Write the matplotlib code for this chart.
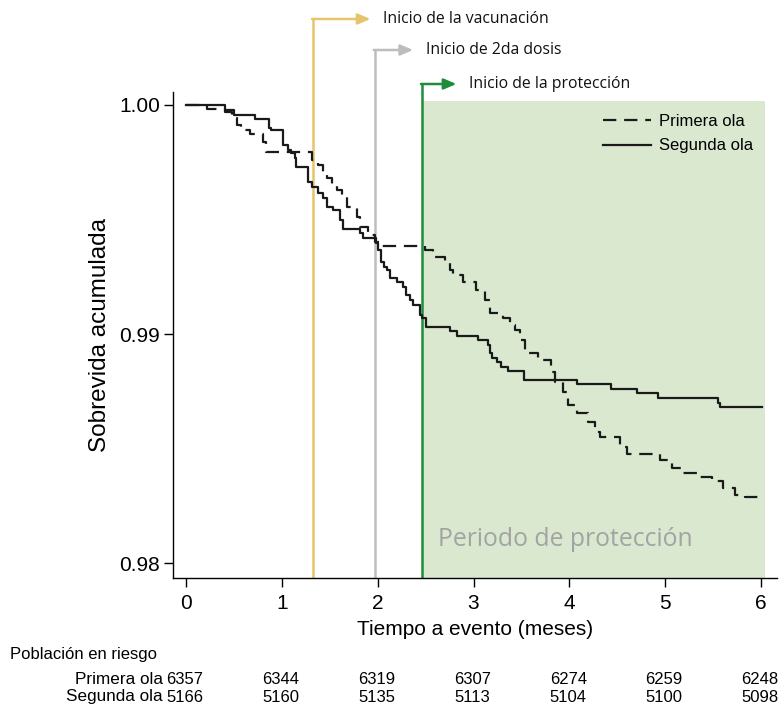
import matplotlib
matplotlib.use("Agg")
import matplotlib.pyplot as plt
import matplotlib.transforms as mtransforms

SANS = "Liberation Sans"
ANN = "Open Sans"

# ---------------- data ----------------
t_primera = [0.0, 0.219, 0.407, 0.480, 0.532, 0.574, 0.668, 0.803, 0.835, 1.315, 1.377, 1.430,
             1.471, 1.524, 1.576, 1.628, 1.680, 1.784, 1.816, 1.899, 1.972, 2.024, 2.494, 2.577,
             2.703, 2.755, 2.786, 2.891, 3.026, 3.120, 3.172, 3.308, 3.381, 3.433, 3.485, 3.538,
             3.673, 3.809, 3.851, 3.934, 3.986, 4.080, 4.195, 4.268, 4.320, 4.529, 4.602, 4.946,
             5.071, 5.186, 5.343, 5.489, 5.604, 5.729, 5.833, 6.011]
s_primera = [1.0, 0.99983, 0.99969, 0.99943, 0.99913, 0.99891, 0.99873, 0.99839, 0.99795, 0.99760,
             0.99738, 0.99703, 0.99681, 0.99651, 0.99629, 0.99598, 0.99555, 0.99511, 0.99468,
             0.99433, 0.99402, 0.99385, 0.99367, 0.99337, 0.99315, 0.99280, 0.99258, 0.99228,
             0.99193, 0.99149, 0.99092, 0.99071, 0.99040, 0.99018, 0.98975, 0.98918, 0.98887,
             0.98835, 0.98791, 0.98748, 0.98691, 0.98656, 0.98617, 0.98573, 0.98551, 0.98508,
             0.98477, 0.98451, 0.98416, 0.98394, 0.98377, 0.98360, 0.98329, 0.98298, 0.98290,
             0.98290]

t_segunda = [0.0, 0.407, 0.501, 0.720, 0.866, 0.887, 1.012, 1.064, 1.096, 1.137, 1.148, 1.273,
             1.315, 1.377, 1.430, 1.471, 1.534, 1.607, 1.638, 1.816, 1.847, 1.983, 2.005, 2.035,
             2.066, 2.097, 2.129, 2.202, 2.264, 2.296, 2.337, 2.369, 2.442, 2.463, 2.504, 2.755,
             2.828, 3.047, 3.151, 3.172, 3.193, 3.245, 3.287, 3.360, 3.527, 4.080, 4.435, 4.706,
             4.925, 5.551, 5.572, 6.011]
s_segunda = [1.0, 0.99978, 0.99956, 0.99939, 0.99900, 0.99891, 0.99825, 0.99804, 0.99791, 0.99769,
             0.99729, 0.99664, 0.99642, 0.99616, 0.99594, 0.99555, 0.99542, 0.99498, 0.99459,
             0.99442, 0.99420, 0.99398, 0.99367, 0.99315, 0.99293, 0.99280, 0.99245, 0.99228,
             0.99206, 0.99171, 0.99149, 0.99127, 0.99084, 0.99071, 0.99031, 0.99014, 0.98992,
             0.98975, 0.98953, 0.98918, 0.98896, 0.98878, 0.98857, 0.98839, 0.98800, 0.98783,
             0.98761, 0.98743, 0.98722, 0.98700, 0.98682, 0.98682]

eventos = ["Inicio de la vacunación", "Inicio de 2da dosis", "Inicio de la protección"]
t_eventos = [1.325, 1.97, 2.462]
col_eventos = ["#E6C46A", "#BDBDBD", "#1E8C3A"]
fin_proteccion = 6.04

x_ticks = [0, 1, 2, 3, 4, 5, 6]
y_ticks = [0.98, 0.99, 1.00]
y_ticklabels = ["0.98", "0.99", "1.00"]
riesgo_primera = [6357, 6344, 6319, 6307, 6274, 6259, 6248]
riesgo_segunda = [5166, 5160, 5135, 5113, 5104, 5100, 5098]

# ---------------- figure ----------------
W, H = 779, 706
fig = plt.figure(figsize=(W / 100, H / 100), dpi=100)
L, R, T, B = 173, 777, 92, 578
ax = fig.add_axes([L / W, (H - B) / H, (R - L) / W, (B - T) / H])
ax.set_xlim(-0.1357, 6.167)
ax.set_ylim(0.979359, 1.000567)

for s in ["top", "right"]:
    ax.spines[s].set_visible(False)
for s in ["left", "bottom"]:
    ax.spines[s].set_linewidth(1.0)

# protection shading
ax.axvspan(t_eventos[2], fin_proteccion, ymin=0, ymax=(B - 101) / (B - T),
           color="#D9E8CF", lw=0, zorder=0)
ax.text(3.955, 0.98102, "Periodo de protección", ha="center", va="center",
        fontsize=17.8, color="#A3A3A3", family=ANN, zorder=1)

# event lines + arrows
trans = mtransforms.blended_transform_factory(ax.transData, ax.transAxes)
arrow_y = [(B - 19) / (B - T), (B - 50) / (B - T), (B - 84) / (B - T)]
arrow_len = [0.60, 0.40, 0.36]
for name, te, c, ay, al in zip(eventos, t_eventos, col_eventos, arrow_y, arrow_len):
    ax.plot([te, te], [0, ay], color=c, lw=1.8, transform=trans, clip_on=False, zorder=2,
            solid_capstyle="butt")
    ax.annotate("", xy=(te + al, ay), xytext=(te - 0.01, ay), xycoords=trans, textcoords=trans,
                arrowprops=dict(arrowstyle="-|>,head_length=0.75,head_width=0.32", color=c, lw=1.8,
                                shrinkA=0, shrinkB=0), annotation_clip=False, zorder=2)
    ax.text(te + al + 0.13, ay, name, transform=trans, ha="left", va="center",
            fontsize=11.3, family=ANN, color="#111111", clip_on=False)

# curves
ax.step(t_primera, s_primera, where="post", color="#1a1a1a", lw=1.6,
        dashes=(6, 3.5), label="Primera ola", zorder=3)
ax.step(t_segunda, s_segunda, where="post", color="#1a1a1a", lw=1.6,
        label="Segunda ola", zorder=3)

ax.set_xticks(x_ticks)
ax.set_xticklabels([str(v) for v in x_ticks], family=SANS, fontsize=15)
ax.set_yticks(y_ticks)
ax.set_yticklabels(y_ticklabels, family=SANS, fontsize=15)
ax.tick_params(axis="both", direction="out", length=6.5, width=1.0, colors="black")
ax.tick_params(axis="x", pad=5)
ax.tick_params(axis="y", pad=3)

ax.set_xlabel("Tiempo a evento (meses)", family=SANS, fontsize=15, labelpad=5)
ax.set_ylabel("Sobrevida acumulada", family=SANS, fontsize=17.5, labelpad=6)

leg = ax.legend(loc="upper right", bbox_to_anchor=(0.985, 0.985), frameon=False,
                prop={"family": SANS, "size": 12}, handlelength=2.9,
                handletextpad=0.45, labelspacing=0.55)

# risk table
def fy(py):
    return (H - py) / H
fig.text(10 / W, fy(655), "Población en riesgo", ha="left", va="center",
         family=SANS, fontsize=12)
fig.text(163 / W, fy(679), "Primera ola", ha="right", va="center", family=SANS, fontsize=12.3)
fig.text(163 / W, fy(697), "Segunda ola", ha="right", va="center", family=SANS, fontsize=12.3)
xfig = mtransforms.blended_transform_factory(ax.transData, fig.transFigure)
for xt, a, b in zip(x_ticks, riesgo_primera, riesgo_segunda):
    ax.text(xt - 0.01, fy(679), str(a), transform=xfig, ha="center", va="center",
            family=SANS, fontsize=12, clip_on=False)
    ax.text(xt - 0.01, fy(697), str(b), transform=xfig, ha="center", va="center",
            family=SANS, fontsize=12, clip_on=False)

fig.savefig("out.png", dpi=100)
